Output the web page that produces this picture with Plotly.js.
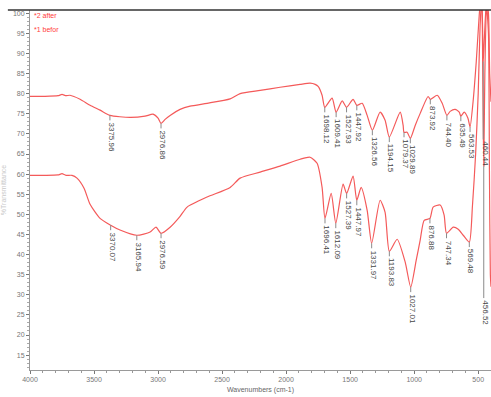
<!DOCTYPE html>
<html>
<head>
<meta charset="utf-8">
<script src="https://cdn.plot.ly/plotly-3.0.1.min.js"></script>
<style>
  html, body { margin: 0; padding: 0; background: #fff; }
  #chart { width: 491px; height: 397px; }
</style>
</head>
<body>
<div id="chart"></div>
<script>
// FTIR spectra, %T versus wavenumber (cm-1)

// Spectrum 2: "after"
const afterWn = [4000, 3883, 3781, 3750, 3719, 3688, 3609, 3531, 3453, 3375.96, 3219, 3102, 3039, 3000, 2976.86, 2945, 2906, 2828, 2750, 2617, 2437, 2359, 2203, 2047, 1891, 1813, 1773, 1750, 1719, 1698.12, 1641, 1609.41, 1562, 1527.93, 1477, 1447.92, 1406, 1367, 1326.56, 1266, 1227, 1194.15, 1109, 1086, 1079.37, 1055, 1029.89, 992, 953, 891, 873.92, 820, 781, 744.40, 719, 680, 648, 635.49, 609, 580, 563.53, 540, 515, 495, 482, 470, 460.44, 450, 435, 420, 410, 400];
const afterT = [79.35, 79.35, 79.5, 79.8, 79.5, 79.6, 78.6, 77.1, 75.9, 74.6, 74.1, 74.4, 74.9, 73.9, 72.6, 73.6, 74.6, 76.1, 76.9, 77.6, 78.7, 80.0, 80.8, 81.6, 82.3, 82.6, 82.3, 81.8, 79.6, 76.6, 78.9, 75.4, 78.2, 76.6, 78.6, 77.1, 77.6, 74.6, 70.9, 75.4, 73.4, 69.2, 75.4, 72.1, 70.4, 70.4, 68.9, 72.1, 75.1, 79.3, 78.6, 79.6, 77.6, 74.6, 75.6, 76.1, 75.4, 74.4, 75.4, 73.9, 71.7, 78, 88, 98, 103, 101, 88, 95, 103, 100, 85, 78];

// Spectrum 1: "before"
const beforeWn = [4000, 3883, 3781, 3750, 3719, 3672, 3633, 3578, 3531, 3453, 3370.07, 3297, 3165.94, 3062, 3016, 2976.59, 2906, 2828, 2773, 2617, 2437, 2359, 2203, 2047, 1891, 1813, 1758, 1719, 1696.41, 1648, 1612.09, 1555, 1527.39, 1477, 1447.97, 1414, 1367, 1331.97, 1266, 1227, 1193.83, 1133, 1070, 1027.01, 984, 953, 922, 876.88, 852, 797, 766, 747.34, 695, 656, 617, 569.48, 545, 520, 500, 485, 472, 463, 456.52, 448, 435, 420, 412, 405, 400];
const beforeT = [59.7, 59.7, 59.8, 60.1, 59.7, 59.7, 59.0, 56.5, 52.5, 49.0, 47.3, 46.1, 44.8, 45.6, 46.8, 45.3, 46.8, 49.5, 51.8, 54.3, 56.7, 59.0, 60.5, 62.0, 63.7, 64.2, 62.7, 56.7, 49.0, 55.2, 47.8, 57.5, 55.2, 59.5, 53.5, 56.7, 51.0, 42.8, 53.5, 50.5, 40.8, 43.8, 38.1, 31.9, 38.6, 43.6, 48.5, 49.0, 51.8, 52.3, 49.8, 45.3, 46.8, 46.3, 44.8, 43.1, 52, 65, 80, 97, 104, 80, 62, 85, 102, 95, 60, 35, 32];

// Peak-pick labels
const afterPeaks = [3375.96, 2976.86, 1698.12, 1609.41, 1527.93, 1447.92, 1326.56, 1194.15, 1079.37, 1029.89, 873.92, 744.40, 635.49, 563.53, 460.44];
const beforePeaks = [3370.07, 3165.94, 2976.59, 1696.41, 1612.09, 1527.39, 1447.97, 1331.97, 1193.83, 1027.01, 876.88, 747.34, 569.48, 456.52];

// Legend entries and axis texts
const legendTexts = ['*2 after', '*1 befor'];
const xTitle = 'Wavenumbers (cm-1)';
const yTitle = '%Transmittance';

const lineColor = '#f45a5a';
const labelGap = 5;
const leaderLen = { '460.44': 78, '456.52': 132 };

function valueAt(wn, ts, w) {
  for (let i = 0; i < wn.length - 1; i++) {
    const a = wn[i], b = wn[i + 1];
    if (w <= a && w >= b) {
      const f = (a === b) ? 0 : (a - w) / (a - b);
      return ts[i] + f * (ts[i + 1] - ts[i]);
    }
  }
  return ts[ts.length - 1];
}

const labelFont = { family: 'Liberation Sans, Arial, sans-serif', size: 8, color: '#444' };
const annotations = [];
const shapes = [
  // heavy rule across the top of the frame
  { type: 'line', xref: 'paper', yref: 'paper', x0: -0.048, x1: 1, y0: 1, y1: 1,
    line: { color: '#333', width: 1.5 } }
];

function addPeaks(wn, ts, peaks) {
  peaks.forEach(p => {
    const txt = p.toFixed(2);
    const v = valueAt(wn, ts, p);
    const len = leaderLen[txt] || labelGap;
    // leader tick from the curve down to the label
    shapes.push({
      type: 'line', xref: 'x', yref: 'y', ysizemode: 'pixel', yanchor: v,
      x0: p, x1: p, y0: 0, y1: -len,
      line: { color: '#8a8a8a', width: 1 }
    });
    annotations.push({
      x: p, y: v, xref: 'x', yref: 'y',
      text: txt, textangle: 90, showarrow: false,
      xanchor: 'center', yanchor: 'top', yshift: -len, xshift: 1.5,
      font: labelFont
    });
  });
}
addPeaks(afterWn, afterT, afterPeaks);
addPeaks(beforeWn, beforeT, beforePeaks);

const legendFont = { family: 'Liberation Sans Narrow, Arial Narrow, sans-serif', size: 7, color: '#ff3b3b' };
annotations.push(
  { xref: 'paper', yref: 'paper', x: 0.005, y: 0.985, xanchor: 'left', yanchor: 'middle',
    text: legendTexts[0], showarrow: false, font: legendFont },
  { xref: 'paper', yref: 'paper', x: 0.005, y: 0.946, xanchor: 'left', yanchor: 'middle',
    text: legendTexts[1], showarrow: false, font: legendFont }
);

const traces = [
  { x: afterWn, y: afterT, type: 'scatter', mode: 'lines', name: legendTexts[0],
    line: { color: lineColor, width: 1.2, shape: 'spline', smoothing: 0.6 } },
  { x: beforeWn, y: beforeT, type: 'scatter', mode: 'lines', name: legendTexts[1],
    line: { color: lineColor, width: 1.2, shape: 'spline', smoothing: 0.6 } }
];

const tickFont = { family: 'Liberation Sans Narrow, Arial Narrow, Liberation Sans, sans-serif', size: 7, color: '#777' };

const layout = {
  width: 491, height: 397,
  margin: { l: 30, r: 0, t: 10, b: 27 },
  paper_bgcolor: '#fff', plot_bgcolor: '#fff',
  showlegend: false,
  xaxis: {
    range: [4000, 400], tickmode: 'linear', tick0: 0, dtick: 500,
    showgrid: false, zeroline: false,
    showline: true, linecolor: '#9a9a9a', linewidth: 1,
    ticks: 'outside', ticklen: 3, tickcolor: '#777', tickfont: tickFont,
    minor: { dtick: 100, ticks: 'outside', ticklen: 2, tickcolor: '#999' },
    title: { text: xTitle, font: { family: 'Liberation Sans Narrow, Arial Narrow, sans-serif', size: 7, color: '#666' }, standoff: 4 }
  },
  yaxis: {
    range: [11.3, 100.8], tickmode: 'linear', tick0: 0, dtick: 5,
    showgrid: false, zeroline: false,
    showline: true, linecolor: '#9a9a9a', linewidth: 1,
    ticks: 'outside', ticklen: 3, tickcolor: '#777', tickfont: tickFont,
    minor: { dtick: 1, ticks: 'outside', ticklen: 2, tickcolor: '#aaa' },
    title: { text: yTitle, font: { family: 'Liberation Sans, Arial, sans-serif', size: 7, color: '#c8c8c8' }, standoff: 6 }
  },
  shapes: shapes,
  annotations: annotations
};

Plotly.newPlot('chart', traces, layout, { displayModeBar: false, staticPlot: true });
</script>
</body>
</html>
